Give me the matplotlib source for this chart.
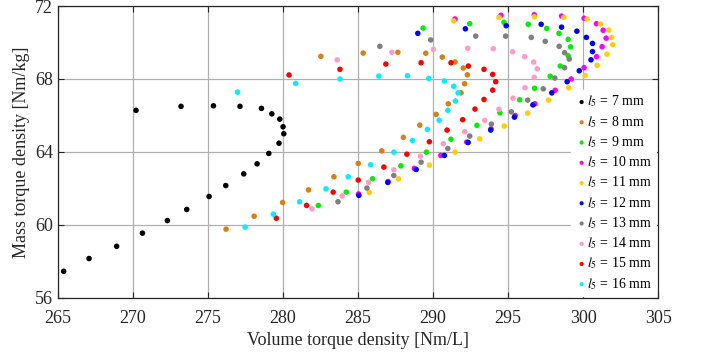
import numpy as np
import matplotlib
matplotlib.use('Agg')
import matplotlib.pyplot as plt
from matplotlib import rcParams

config = {
    "font.family": 'serif',
    "font.serif": ['Liberation Serif', 'DejaVu Serif'],
    "mathtext.fontset": 'stix',
    "font.size": 13,
}
rcParams.update(config)

# l5 = 7 mm ... 16 mm, 21 design points each: (volume torque density, mass torque density)
x_7 = [265.38, 267.07, 268.91, 270.63, 272.29, 273.58, 275.07, 276.18, 277.38, 278.27, 279.05,
       279.73, 280.05, 280.00, 279.78, 279.25, 278.56, 277.13, 275.36, 273.20, 270.20]
y_7 = [57.46, 58.16, 58.83, 59.55, 60.24, 60.85, 61.56, 62.16, 62.80, 63.35, 63.92,
       64.48, 65.00, 65.38, 65.80, 66.09, 66.39, 66.50, 66.53, 66.50, 66.28]

x_8 = [276.20, 278.07, 279.97, 281.70, 283.39, 285.01, 286.58, 288.02, 289.11, 290.20, 291.01,
       291.86, 292.10, 292.28, 292.01, 291.46, 290.61, 289.51, 287.65, 285.34, 282.52]
y_8 = [59.77, 60.48, 61.23, 61.92, 62.64, 63.37, 64.06, 64.80, 65.47, 66.06, 66.64,
       67.24, 67.74, 68.23, 68.60, 68.93, 69.20, 69.41, 69.46, 69.42, 69.24]

x_9 = [282.35, 284.21, 285.96, 287.85, 289.55, 291.19, 292.92, 294.45, 295.77, 296.76, 297.80,
       298.47, 299.00, 299.16, 299.00, 298.39, 297.57, 296.34, 294.72, 292.44, 289.33]
y_9 = [61.07, 61.80, 62.53, 63.24, 63.99, 64.70, 65.46, 66.15, 66.86, 67.49, 68.15,
       68.71, 69.27, 69.76, 70.17, 70.50, 70.77, 71.00, 71.11, 71.03, 70.79]

x_10 = [285.03, 287.00, 288.75, 290.51, 292.24, 293.86, 295.47, 296.78, 298.13, 299.20, 300.06,
        300.89, 301.26, 301.53, 301.33, 300.89, 300.06, 298.56, 296.74, 294.52, 291.46]
y_10 = [61.70, 62.38, 63.10, 63.81, 64.54, 65.27, 66.00, 66.64, 67.38, 68.00, 68.62,
        69.22, 69.77, 70.24, 70.67, 71.03, 71.33, 71.45, 71.52, 71.49, 71.29]

x_11 = [285.74, 287.69, 289.75, 291.46, 293.10, 294.74, 296.30, 297.69, 299.03, 300.13, 300.93,
        301.59, 301.97, 301.89, 301.71, 301.15, 300.26, 298.71, 296.74, 294.39, 291.37]
y_11 = [61.78, 62.53, 63.28, 63.99, 64.72, 65.42, 66.13, 66.84, 67.52, 68.19, 68.75,
        69.36, 69.88, 70.28, 70.68, 71.01, 71.29, 71.38, 71.41, 71.38, 71.18]

x_12 = [285.05, 286.98, 288.87, 290.75, 292.33, 293.84, 295.42, 296.65, 297.91, 298.93, 299.74,
        300.52, 300.62, 300.62, 300.21, 299.58, 298.56, 297.20, 294.87, 292.15, 288.98]
y_12 = [61.62, 62.33, 63.04, 63.81, 64.52, 65.20, 65.91, 66.58, 67.24, 67.85, 68.45,
        69.05, 69.50, 69.95, 70.28, 70.62, 70.84, 71.00, 70.92, 70.75, 70.50]

x_13 = [283.66, 285.59, 287.38, 289.20, 290.98, 292.44, 293.88, 295.21, 296.30, 297.34, 298.11,
        298.76, 299.07, 298.76, 298.40, 297.47, 296.54, 294.83, 292.84, 289.84, 286.45]
y_13 = [61.27, 62.02, 62.71, 63.44, 64.19, 64.87, 65.53, 66.20, 66.84, 67.46, 68.05,
        68.62, 69.09, 69.44, 69.79, 70.06, 70.28, 70.35, 70.35, 70.14, 69.79]

x_14 = [281.93, 283.94, 285.69, 287.38, 289.15, 290.68, 292.11, 293.44, 294.39, 295.32, 296.12,
        296.74, 296.94, 296.70, 296.10, 295.30, 294.01, 292.31, 290.02, 287.25, 283.61]
y_14 = [60.88, 61.59, 62.33, 63.02, 63.77, 64.45, 65.11, 65.73, 66.34, 66.95, 67.52,
        68.09, 68.56, 68.93, 69.22, 69.49, 69.66, 69.68, 69.62, 69.46, 69.05]

x_15 = [279.55, 281.57, 283.34, 285.01, 286.72, 288.25, 289.75, 290.93, 291.97, 292.79, 293.39,
        293.97, 294.17, 293.97, 293.39, 292.35, 291.19, 289.20, 286.85, 283.79, 280.40]
y_15 = [60.37, 61.07, 61.80, 62.46, 63.17, 63.88, 64.56, 65.20, 65.77, 66.35, 66.88,
        67.39, 67.85, 68.25, 68.53, 68.71, 68.89, 68.89, 68.82, 68.53, 68.22]

x_16 = [277.47, 279.35, 281.10, 282.86, 284.34, 285.83, 287.38, 288.62, 289.62, 290.40, 290.98,
        291.48, 291.66, 291.37, 290.75, 289.71, 288.29, 286.38, 283.79, 280.84, 276.96]
y_16 = [59.88, 60.59, 61.27, 61.98, 62.64, 63.30, 63.99, 64.63, 65.24, 65.74, 66.28,
        66.79, 67.24, 67.60, 67.89, 68.03, 68.18, 68.16, 68.00, 67.76, 67.28]

l5_values = [7, 8, 9, 10, 11, 12, 13, 14, 15, 16]
xs = [x_7, x_8, x_9, x_10, x_11, x_12, x_13, x_14, x_15, x_16]
ys = [y_7, y_8, y_9, y_10, y_11, y_12, y_13, y_14, y_15, y_16]
colors = ['black', '#D98014', '#00F000', '#FF00FF', '#FFD000',
          '#0000FF', '#808080', '#FC9CC8', '#FF0000', '#00F0FF']

fig = plt.figure(figsize=(7.07, 3.53), dpi=100)
ax = fig.add_axes([0.082, 0.156, 0.849, 0.827])

for xv, yv, c, l5 in zip(xs, ys, colors, l5_values):
    ax.scatter(xv, yv, s=16, color=c, edgecolors='none', zorder=3,
               label=r'$\mathit{l}_5$ = %d mm' % l5)

ax.set_xlim(265, 305)
ax.set_ylim(56, 72)
ax.set_xticks(np.arange(265, 306, 5))
ax.set_yticks(np.arange(56, 73, 4))
ax.grid(True, color='#b0b0b0', linewidth=0.9)
ax.set_axisbelow(True)
ax.tick_params(direction='in', top=True, right=True, length=4, colors='#262626',
               labelsize=13)
ax.tick_params(axis='x', pad=9)
for sp in ax.spines.values():
    sp.set_color('#262626')
    sp.set_linewidth(0.9)

ax.set_xlabel('Volume torque density [Nm/L]', fontsize=13, color='#262626', labelpad=3)
ax.set_ylabel('Mass torque density [Nm/kg]', fontsize=13, color='#262626', labelpad=4)

legend = ax.legend(loc='lower right', fontsize=10, frameon=True, fancybox=False,
                   markerscale=0.75, handletextpad=-0.1, labelspacing=0.32,
                   borderaxespad=0.15, borderpad=0.3, handlelength=1.0)
frame = legend.get_frame()
frame.set_facecolor('white')
frame.set_edgecolor('white')
frame.set_alpha(1.0)

plt.savefig('out.png', dpi=100)
